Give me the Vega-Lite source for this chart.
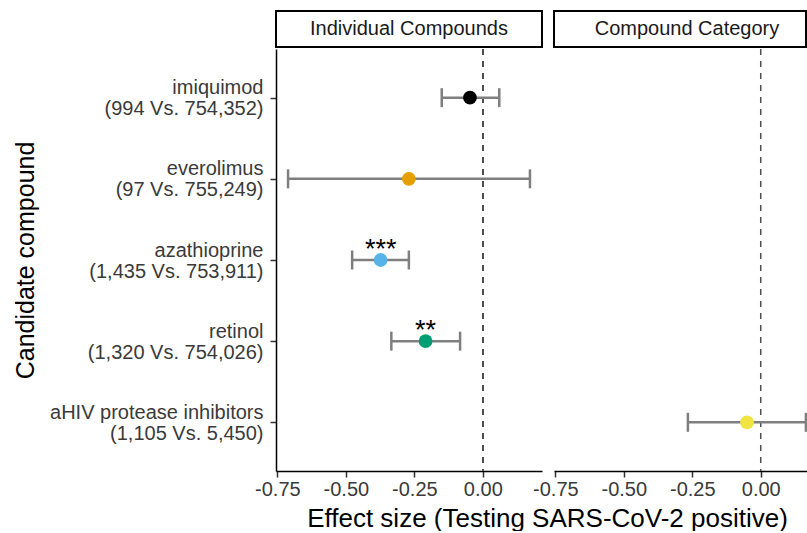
{
  "$schema": "https://vega.github.io/schema/vega-lite/v6.json",
  "padding": {"left": 13, "top": 10, "right": 0, "bottom": 0},
  "autosize": {"type": "pad"},
  "bounds": "flush",
  "columns": 2,
  "spacing": {"row": 2, "column": 12},
  "resolve": {"scale": {"x": "independent", "y": "independent", "color": "shared"}},
  "config": {
    "font": "Liberation Sans",
    "view": {"stroke": null},
    "axis": {
      "grid": false,
      "domainColor": "#000000",
      "domainWidth": 1.5,
      "tickColor": "#333333",
      "tickWidth": 1.5,
      "tickSize": 6,
      "labelFontSize": 20,
      "labelColor": "#3a3a3a",
      "titleFontSize": 25,
      "titleFontWeight": "normal",
      "titleColor": "#000000"
    }
  },
  "datasets": {
    "effects": [
      {"panel": "Individual Compounds", "label": "imiquimod|(994 Vs. 754,352)", "effect": -0.047, "low": -0.150, "high": 0.060, "stars": ""},
      {"panel": "Individual Compounds", "label": "everolimus|(97 Vs. 755,249)", "effect": -0.270, "low": -0.711, "high": 0.172, "stars": ""},
      {"panel": "Individual Compounds", "label": "azathioprine|(1,435 Vs. 753,911)", "effect": -0.373, "low": -0.477, "high": -0.270, "stars": "***"},
      {"panel": "Individual Compounds", "label": "retinol|(1,320 Vs. 754,026)", "effect": -0.209, "low": -0.334, "high": -0.083, "stars": "**"},
      {"panel": "Compound Category", "label": "aHIV protease inhibitors|(1,105 Vs. 5,450)", "effect": -0.050, "low": -0.266, "high": 0.165, "stars": ""}
    ]
  },
  "concat": [
    {
      "width": 266,
      "height": 36,
      "data": {"values": [{"panel": "Individual Compounds"}]},
      "view": {"stroke": "#000000", "strokeWidth": 2},
      "mark": {"type": "text", "fontSize": 20, "color": "#1a1a1a"},
      "encoding": {"text": {"field": "panel"}}
    },
    {
      "width": 252,
      "height": 36,
      "data": {"values": [{"panel": "Compound Category"}]},
      "view": {"stroke": "#000000", "strokeWidth": 2},
      "mark": {"type": "text", "fontSize": 20, "color": "#1a1a1a", "dx": 7},
      "encoding": {"text": {"field": "panel"}}
    },
    {
      "width": 266,
      "height": 422,
      "data": {"name": "effects"},
      "transform": [{"filter": "datum.panel === 'Individual Compounds'"}],
      "encoding": {
        "y": {
          "field": "label", "type": "nominal",
          "scale": {"type": "point", "padding": 0.6, "domain": ["imiquimod|(994 Vs. 754,352)", "everolimus|(97 Vs. 755,249)", "azathioprine|(1,435 Vs. 753,911)", "retinol|(1,320 Vs. 754,026)", "aHIV protease inhibitors|(1,105 Vs. 5,450)"]},
          "axis": {
            "title": "Candidate compound",
            "labelExpr": "split(datum.label, '|')",
            "labelLineHeight": 21,
            "labelOffset": -10,
            "labelPadding": 7,
            "labelLimit": 500,
            "titlePadding": 38
          }
        }
      },
      "layer": [
        {
          "mark": {"type": "rule", "strokeDash": [6, 6], "color": "#4d4d4d", "strokeWidth": 1.5},
          "encoding": {
            "x": {"datum": 0, "type": "quantitative", "scale": {"domain": [-0.755, 0.216], "nice": false, "zero": false}, "axis": {"values": [-0.75, -0.5, -0.25, 0], "labelExpr": "(datum.value < 0 ? '-' : '') + format(abs(datum.value), '.2f')", "labelPadding": 2, "title": "Effect size (Testing SARS-CoV-2 positive)", "titleFontSize": 26, "titleX": 271, "titleAlign": "center", "titlePadding": 6}},
            "y": null
          }
        },
        {
          "mark": {"type": "rule", "color": "#7f7f7f", "strokeWidth": 2.5},
          "encoding": {
            "x": {"field": "low", "type": "quantitative", "axis": {"values": [-0.75, -0.5, -0.25, 0], "labelExpr": "(datum.value < 0 ? '-' : '') + format(abs(datum.value), '.2f')", "labelPadding": 2, "title": "Effect size (Testing SARS-CoV-2 positive)", "titleFontSize": 26, "titleX": 271, "titleAlign": "center", "titlePadding": 6}},
            "x2": {"field": "high"}
          }
        },
        {
          "mark": {"type": "tick", "color": "#7f7f7f", "thickness": 2.5, "size": 19, "opacity": 1},
          "encoding": {"x": {"field": "low", "type": "quantitative", "axis": {"values": [-0.75, -0.5, -0.25, 0], "labelExpr": "(datum.value < 0 ? '-' : '') + format(abs(datum.value), '.2f')", "labelPadding": 2, "title": "Effect size (Testing SARS-CoV-2 positive)", "titleFontSize": 26, "titleX": 271, "titleAlign": "center", "titlePadding": 6}}}
        },
        {
          "mark": {"type": "tick", "color": "#7f7f7f", "thickness": 2.5, "size": 19, "opacity": 1},
          "encoding": {"x": {"field": "high", "type": "quantitative", "axis": {"values": [-0.75, -0.5, -0.25, 0], "labelExpr": "(datum.value < 0 ? '-' : '') + format(abs(datum.value), '.2f')", "labelPadding": 2, "title": "Effect size (Testing SARS-CoV-2 positive)", "titleFontSize": 26, "titleX": 271, "titleAlign": "center", "titlePadding": 6}}}
        },
        {
          "mark": {"type": "point", "filled": true, "opacity": 1, "size": 190, "shape": "circle"},
          "encoding": {
            "x": {"field": "effect", "type": "quantitative", "axis": {"values": [-0.75, -0.5, -0.25, 0], "labelExpr": "(datum.value < 0 ? '-' : '') + format(abs(datum.value), '.2f')", "labelPadding": 2, "title": "Effect size (Testing SARS-CoV-2 positive)", "titleFontSize": 26, "titleX": 271, "titleAlign": "center", "titlePadding": 6}},
            "color": {
              "field": "label", "type": "nominal",
              "scale": {"domain": ["imiquimod|(994 Vs. 754,352)", "everolimus|(97 Vs. 755,249)", "azathioprine|(1,435 Vs. 753,911)", "retinol|(1,320 Vs. 754,026)", "aHIV protease inhibitors|(1,105 Vs. 5,450)"], "range": ["#000000", "#E69F00", "#56B4E9", "#009E73", "#F0E442"]},
              "legend": null
            }
          }
        },
        {
          "mark": {"type": "text", "fontSize": 27, "color": "#000000", "baseline": "alphabetic", "align": "center", "dy": -2},
          "encoding": {
            "x": {"field": "effect", "type": "quantitative", "axis": {"values": [-0.75, -0.5, -0.25, 0], "labelExpr": "(datum.value < 0 ? '-' : '') + format(abs(datum.value), '.2f')", "labelPadding": 2, "title": "Effect size (Testing SARS-CoV-2 positive)", "titleFontSize": 26, "titleX": 271, "titleAlign": "center", "titlePadding": 6}},
            "text": {"field": "stars"}
          }
        }
      ]
    },
    {
      "width": 253,
      "height": 422,
      "data": {"name": "effects"},
      "transform": [{"filter": "datum.panel === 'Compound Category'"}],
      "encoding": {
        "y": {
          "field": "label", "type": "nominal",
          "scale": {"type": "point", "padding": 0.6, "domain": ["imiquimod|(994 Vs. 754,352)", "everolimus|(97 Vs. 755,249)", "azathioprine|(1,435 Vs. 753,911)", "retinol|(1,320 Vs. 754,026)", "aHIV protease inhibitors|(1,105 Vs. 5,450)"]},
          "axis": null
        }
      },
      "layer": [
        {
          "mark": {"type": "rule", "strokeDash": [6, 6], "color": "#4d4d4d", "strokeWidth": 1.5},
          "encoding": {
            "x": {"datum": 0, "type": "quantitative", "scale": {"domain": [-0.755, 0.169], "nice": false, "zero": false}, "axis": {"values": [-0.75, -0.5, -0.25, 0], "labelExpr": "(datum.value < 0 ? '-' : '') + format(abs(datum.value), '.2f')", "labelPadding": 2, "title": null}},
            "y": null
          }
        },
        {
          "mark": {"type": "rule", "color": "#7f7f7f", "strokeWidth": 2.5},
          "encoding": {
            "x": {"field": "low", "type": "quantitative", "axis": {"values": [-0.75, -0.5, -0.25, 0], "labelExpr": "(datum.value < 0 ? '-' : '') + format(abs(datum.value), '.2f')", "labelPadding": 2, "title": null}},
            "x2": {"field": "high"}
          }
        },
        {
          "mark": {"type": "tick", "color": "#7f7f7f", "thickness": 2.5, "size": 19, "opacity": 1},
          "encoding": {"x": {"field": "low", "type": "quantitative", "axis": {"values": [-0.75, -0.5, -0.25, 0], "labelExpr": "(datum.value < 0 ? '-' : '') + format(abs(datum.value), '.2f')", "labelPadding": 2, "title": null}}}
        },
        {
          "mark": {"type": "tick", "color": "#7f7f7f", "thickness": 2.5, "size": 19, "opacity": 1},
          "encoding": {"x": {"field": "high", "type": "quantitative", "axis": {"values": [-0.75, -0.5, -0.25, 0], "labelExpr": "(datum.value < 0 ? '-' : '') + format(abs(datum.value), '.2f')", "labelPadding": 2, "title": null}}}
        },
        {
          "mark": {"type": "point", "filled": true, "opacity": 1, "size": 190, "shape": "circle"},
          "encoding": {
            "x": {"field": "effect", "type": "quantitative", "axis": {"values": [-0.75, -0.5, -0.25, 0], "labelExpr": "(datum.value < 0 ? '-' : '') + format(abs(datum.value), '.2f')", "labelPadding": 2, "title": null}},
            "color": {"field": "label", "type": "nominal", "legend": null}
          }
        }
      ]
    }
  ]
}
